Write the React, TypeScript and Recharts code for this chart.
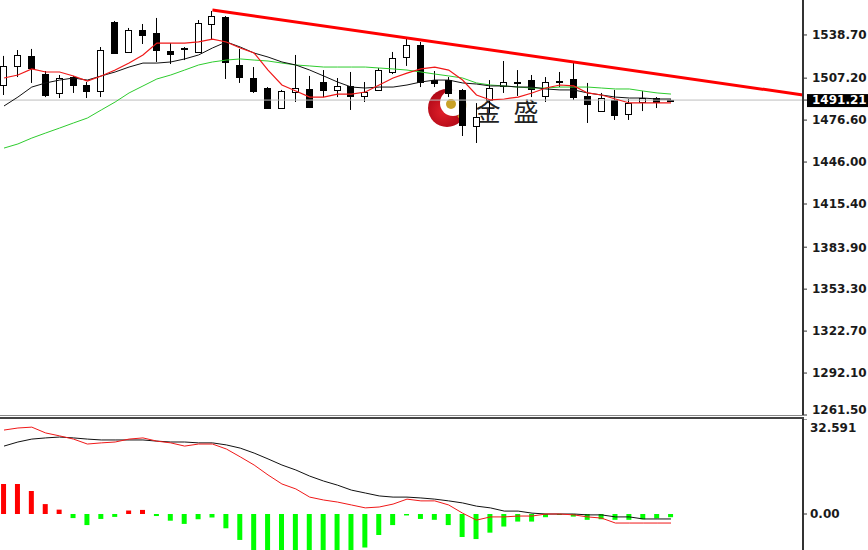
import React from "react"
import { ComposedChart, Bar, Line, XAxis, YAxis, ReferenceLine, Cell } from "recharts"

// candle index -> OHLC
const opens = [1502.2, 1516.1, 1523.4, 1510.2, 1496.4, 1508.0, 1502.2, 1497.8, 1548.2, 1526.3, 1542.3, 1540.1, 1527.0, 1528.5, 1526.3, 1546.7, 1551.8, 1516.8, 1507.3, 1500.0, 1485.4, 1497.1, 1499.3, 1504.4, 1498.6, 1501.5, 1494.2, 1498.6, 1511.7, 1522.6, 1531.4, 1505.8, 1505.8, 1498.6, 1472.3, 1491.3, 1501.5, 1503.7, 1505.8, 1494.2, 1504.4, 1506.6, 1494.2, 1483.2, 1491.3, 1481.0, 1489.8, 1492.7, 1491.0]
const highs = [1523.4, 1527.7, 1528.5, 1512.4, 1509.5, 1508.8, 1504.4, 1529.9, 1548.9, 1543.8, 1546.7, 1551.1, 1532.8, 1529.9, 1549.6, 1556.2, 1552.5, 1528.5, 1515.3, 1500.7, 1498.6, 1524.1, 1508.8, 1513.1, 1507.3, 1511.7, 1504.4, 1514.6, 1526.3, 1535.8, 1533.6, 1512.4, 1508.0, 1499.3, 1489.0, 1505.8, 1519.7, 1513.1, 1509.5, 1508.0, 1511.7, 1518.2, 1503.7, 1496.4, 1498.6, 1492.0, 1497.8, 1493.4, 1491.6]
const lows = [1494.9, 1508.0, 1503.7, 1493.4, 1492.7, 1496.4, 1492.7, 1493.4, 1525.0, 1525.6, 1532.1, 1519.0, 1517.5, 1520.4, 1525.6, 1535.0, 1506.6, 1503.7, 1496.4, 1484.7, 1484.7, 1489.8, 1485.4, 1493.4, 1493.4, 1484.0, 1489.8, 1498.0, 1510.2, 1516.1, 1500.7, 1500.7, 1493.4, 1465.0, 1459.9, 1481.8, 1496.4, 1494.2, 1493.4, 1489.8, 1500.7, 1491.3, 1474.5, 1482.5, 1476.7, 1476.7, 1483.2, 1485.4, 1490.8]
const closes = [1516.1, 1524.1, 1514.6, 1494.9, 1507.3, 1502.2, 1497.8, 1527.7, 1525.6, 1542.3, 1538.7, 1527.7, 1524.8, 1529.2, 1547.4, 1552.5, 1519.0, 1508.0, 1497.8, 1485.4, 1497.8, 1500.0, 1486.2, 1498.6, 1501.5, 1494.2, 1497.1, 1513.1, 1521.9, 1531.4, 1504.4, 1503.7, 1496.4, 1473.0, 1478.9, 1500.0, 1504.4, 1504.4, 1499.3, 1504.4, 1505.1, 1493.4, 1488.3, 1492.7, 1480.3, 1489.1, 1492.7, 1489.8, 1491.21]

// moving averages
const maRed = [1507.3, 1509.5, 1513.9, 1511.7, 1511.7, 1508.8, 1505.1, 1508.8, 1513.1, 1518.2, 1524.1, 1532.8, 1532.8, 1532.8, 1533.6, 1535.7, 1533.6, 1529.2, 1525.5, 1513.1, 1502.2, 1497.8, 1493.4, 1493.4, 1495.6, 1495.6, 1497.1, 1502.2, 1507.3, 1510.9, 1513.9, 1515.3, 1513.1, 1505.8, 1494.9, 1491.3, 1492.0, 1493.4, 1496.4, 1500.0, 1502.2, 1501.5, 1496.4, 1494.9, 1492.0, 1489.1, 1489.1, 1489.1, 1489.1]
const maBlack = [1486.9, 1493.4, 1500.7, 1503.7, 1505.8, 1507.3, 1505.8, 1508.8, 1511.7, 1515.3, 1518.2, 1518.2, 1519.0, 1521.2, 1524.1, 1529.2, 1533.6, 1529.9, 1525.5, 1522.6, 1519.0, 1516.8, 1513.1, 1508.8, 1504.4, 1500.7, 1500.0, 1500.7, 1500.7, 1502.2, 1504.4, 1505.8, 1505.8, 1503.7, 1502.9, 1501.5, 1501.5, 1500.7, 1500.7, 1499.3, 1498.6, 1498.6, 1496.4, 1494.9, 1493.4, 1492.7, 1492.7, 1492.0, 1492.0]
const maGreen = [1456.2, 1459.2, 1463.5, 1467.2, 1470.8, 1474.5, 1478.1, 1484.0, 1489.8, 1496.4, 1501.5, 1506.6, 1509.5, 1513.1, 1516.8, 1519.0, 1520.4, 1521.2, 1520.4, 1519.7, 1518.2, 1516.8, 1516.1, 1515.3, 1515.3, 1515.3, 1515.3, 1514.6, 1513.9, 1513.1, 1511.7, 1510.2, 1508.8, 1507.3, 1503.7, 1502.2, 1501.5, 1500.7, 1500.0, 1500.0, 1500.7, 1500.7, 1500.7, 1500.0, 1499.3, 1499.3, 1497.8, 1496.4, 1495.6]

// MACD panel
const macdBlack = [23.3, 24.7, 25.7, 26.1, 26.4, 26.1, 25.7, 25.4, 25.4, 25.4, 25.4, 25.0, 24.7, 24.7, 24.4, 24.4, 23.7, 22.6, 20.9, 18.9, 16.8, 15.1, 13.0, 11.3, 9.9, 8.2, 7.2, 6.2, 5.8, 5.8, 5.5, 5.1, 4.5, 3.8, 2.7, 2.1, 1.0, 1.0, 0.3, 0, 0, 0, -0.3, -0.3, -1.0, -1.0, -1.7, -1.7, -1.7]
const macdRed = [28.8, 29.5, 29.8, 27.8, 26.8, 25.7, 24.0, 24.4, 24.7, 25.7, 26.1, 25.0, 24.4, 23.3, 24.0, 24.0, 22.3, 19.6, 16.8, 13.4, 10.3, 8.6, 5.8, 4.8, 4.1, 3.1, 2.1, 2.4, 3.4, 5.1, 4.5, 4.5, 3.1, 0.3, -2.1, -1.0, -1.0, -0.7, -0.7, 0, 0, -0.3, -1.0, -1.4, -3.1, -3.1, -3.1, -3.1, -3.1]
const macdHist = [10.3, 10.3, 7.9, 3.4, 1.5, -1.4, -3.8, -1.7, -1.0, 1.2, 1.4, -0.7, -2.3, -3.4, -1.8, -1.2, -4.9, -8.9, -14, -15, -15, -15, -15, -15, -15, -14, -11.5, -7.2, -3.8, -0.5, -1.7, -2.0, -3.8, -7.9, -8.6, -6.4, -4.3, -2.6, -2.6, -1.1, -0.3, -0.9, -2.0, -1.8, -2.0, -2.0, -1.8, -1.5, -1.1]

const priceTicks = [1538.7, 1507.2, 1491.21, 1476.6, 1446.0, 1415.4, 1383.9, 1353.3, 1322.7, 1292.1, 1261.5]
const lastPrice = 1491.21
const macdTicks = [32.591, 0]

const xDomain: [number, number] = [-0.288, 57.498]
const trendFrom = { x: 15, y: 1556.9 }
const trendTo = { x: 57.498, y: 1494.9 }

const data = closes.map((c, i) => ({
  i,
  range: [lows[i], highs[i]],
  open: opens[i],
  high: highs[i],
  low: lows[i],
  close: c,
  maRed: maRed[i],
  maBlack: maBlack[i],
  maGreen: maGreen[i],
  macdBlack: macdBlack[i],
  macdRed: macdRed[i],
  hist: macdHist[i],
}))

const FONT = "'DejaVu Sans', sans-serif"

const Candle = (props: any) => {
  const { x, y, width, height, payload } = props
  if (x == null || !payload) return null
  const top = Math.min(y, y + height)
  const h = Math.abs(height)
  const span = payload.high - payload.low || 1
  const toY = (v: number) => top + ((payload.high - v) / span) * h
  const cx = Math.floor(x + width / 2) + 0.5
  const bTop = Math.round(toY(Math.max(payload.open, payload.close))) + 0.5
  const bBot = Math.round(toY(Math.min(payload.open, payload.close))) + 0.5
  const up = payload.close >= payload.open
  return (
    <g>
      <line x1={cx} x2={cx} y1={top} y2={top + h} stroke="#000" />
      <rect x={cx - 3} y={bTop} width={6} height={Math.max(1, bBot - bTop)} fill={up ? "#fff" : "#000"} stroke="#000" />
    </g>
  )
}

const PriceTick = (props: any) => {
  const { x, y, payload } = props
  const v = payload.value
  if (v === lastPrice) {
    return (
      <g>
        <rect x={x - 5} y={y - 6} width={70} height={13} fill="#000" />
        <text x={x} y={y} dy="0.36em" fill="#fff" fontSize={12} fontWeight="bold" fontFamily={FONT}>
          {v.toFixed(2)}
        </text>
      </g>
    )
  }
  const dy = v === 1261.5 ? -5 : 0
  return (
    <text x={x} y={y + dy} dy="0.36em" fill="#1a1a1a" fontSize={12} fontWeight="bold" fontFamily={FONT}>
      {v.toFixed(2)}
    </text>
  )
}

const MacdTick = (props: any) => {
  const { x, y, payload } = props
  const v = payload.value
  const label = v === 0 ? "0.00" : v.toFixed(3)
  return (
    <text x={x - 2} y={v === 0 ? y : y + 9} dy="0.36em" fill="#1a1a1a" fontSize={12} fontWeight="bold" fontFamily={FONT}>
      {label}
    </text>
  )
}

const Watermark = () => (
  <svg width={868} height={416} style={{ position: "absolute", left: 0, top: 0 }}>
    <defs>
      <radialGradient id="wm" cx="40%" cy="60%" r="70%">
        <stop offset="0%" stopColor="#e0202a" />
        <stop offset="100%" stopColor="#a00010" />
      </radialGradient>
    </defs>
    <circle cx={447} cy={108} r={19} fill="url(#wm)" />
    <circle cx={453} cy={103} r={13} fill="#fff" />
    <path d="M 461 96 A 13 13 0 0 1 458 117" stroke="#c9a227" strokeWidth={2.5} fill="none" />
    <circle cx={451} cy={104} r={5} fill="#c9a227" />
    <text x={488} y={121} textAnchor="middle" fontSize={25} fill="#222" fontFamily="'Noto Sans CJK SC'">
      金
    </text>
    <text x={526} y={121} textAnchor="middle" fontSize={25} fill="#222" fontFamily="'Noto Sans CJK SC'">
      盛
    </text>
  </svg>
)

export default function App() {
  return (
    <div style={{ position: "absolute", left: 0, top: 0, width: 868, height: 550, background: "#fff", overflow: "hidden", fontFamily: FONT }}>
      <Watermark />
      <div style={{ position: "absolute", left: 0, top: 0 }}>
        <ComposedChart width={868} height={416} data={data} margin={{ top: 0, right: 0, bottom: 1, left: 0 }}>
          <XAxis dataKey="i" type="number" domain={xDomain} allowDataOverflow hide />
          <YAxis
            orientation="right"
            width={65}
            domain={[1261.5, 1564.2]}
            allowDataOverflow
            ticks={priceTicks}
            interval={0}
            tickSize={4}
            tickMargin={5}
            axisLine={{ stroke: "#333", strokeWidth: 2 }}
            tickLine={{ stroke: "#333" }}
            tick={<PriceTick />}
          />
          <ReferenceLine y={lastPrice} stroke="#bdbdbd" />
          <Line dataKey="maGreen" stroke="#2ecc2e" strokeWidth={1} dot={false} activeDot={false} isAnimationActive={false} />
          <Line dataKey="maBlack" stroke="#111" strokeWidth={1} dot={false} activeDot={false} isAnimationActive={false} />
          <Line dataKey="maRed" stroke="#f01818" strokeWidth={1.2} dot={false} activeDot={false} isAnimationActive={false} />
          <Bar dataKey="range" barSize={7} shape={<Candle />} activeBar={false} isAnimationActive={false} />
          <ReferenceLine segment={[trendFrom, trendTo]} stroke="#f00" strokeWidth={3} />
        </ComposedChart>
      </div>
      <div style={{ position: "absolute", left: 0, top: 415, width: 804, height: 1, background: "#8a8a8a" }} />
      <div style={{ position: "absolute", left: 0, top: 417, width: 804, height: 2, background: "#444" }} />
      <div style={{ position: "absolute", left: 0, top: 419 }}>
        <ComposedChart width={868} height={131} data={data} margin={{ top: 0, right: 0, bottom: 0, left: 0 }}>
          <XAxis dataKey="i" type="number" domain={xDomain} allowDataOverflow hide />
          <YAxis
            orientation="right"
            width={65}
            domain={[-12.35, 32.591]}
            allowDataOverflow
            ticks={macdTicks}
            interval={0}
            tickSize={4}
            tickMargin={5}
            axisLine={{ stroke: "#333", strokeWidth: 2 }}
            tickLine={{ stroke: "#333" }}
            tick={<MacdTick />}
          />
          <Bar dataKey="hist" barSize={5} activeBar={false} isAnimationActive={false}>
            {data.map((d) => (
              <Cell key={d.i} fill={d.hist >= 0 ? "#ff0000" : "#00ff00"} />
            ))}
          </Bar>
          <Line dataKey="macdBlack" stroke="#111" strokeWidth={1} dot={false} activeDot={false} isAnimationActive={false} />
          <Line dataKey="macdRed" stroke="#f01818" strokeWidth={1} dot={false} activeDot={false} isAnimationActive={false} />
        </ComposedChart>
      </div>
    </div>
  )
}
